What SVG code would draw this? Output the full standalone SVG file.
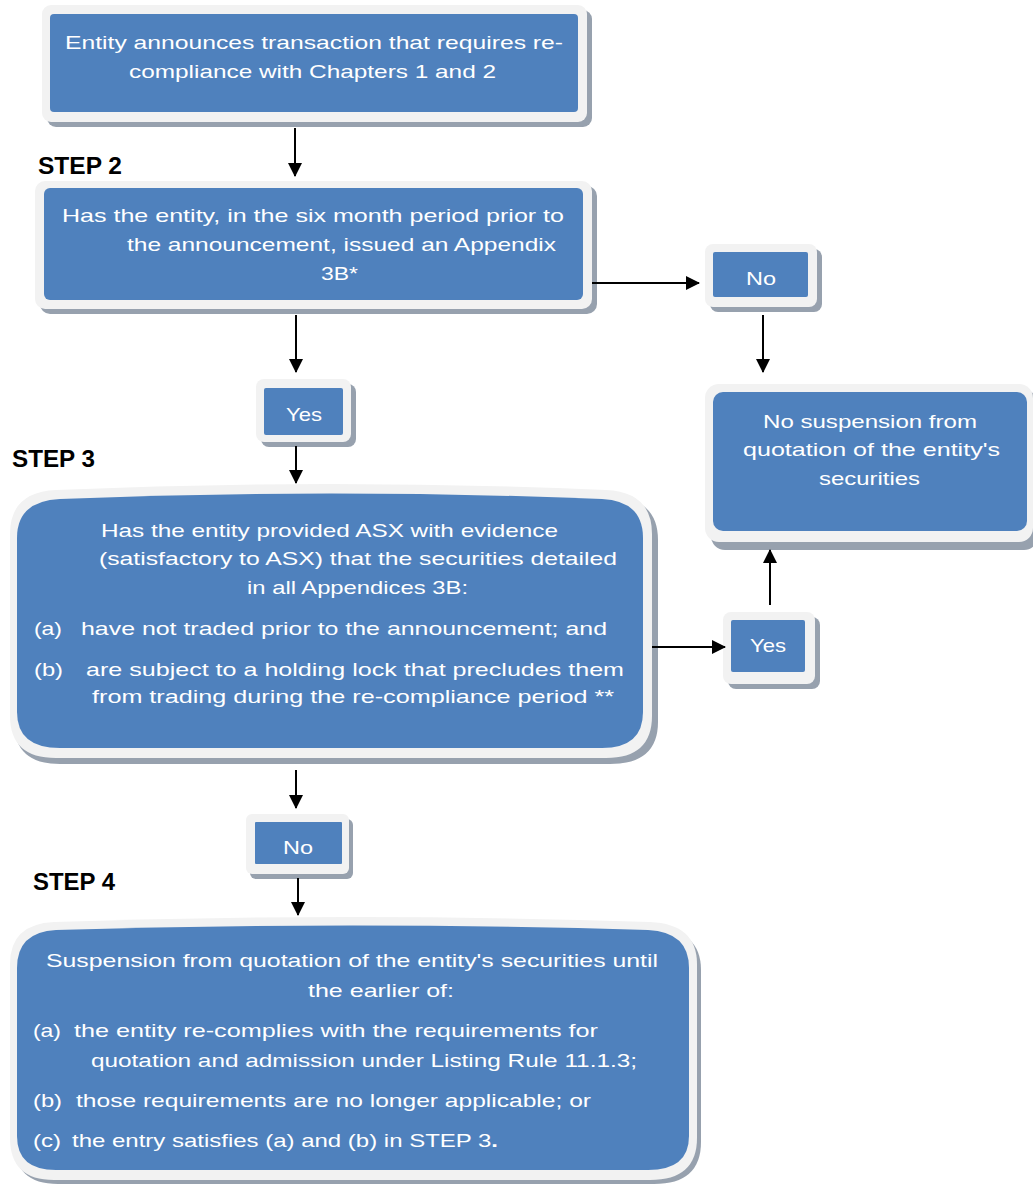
<svg xmlns="http://www.w3.org/2000/svg" width="1033" height="1184" viewBox="0 0 1033 1184">
<defs>
<marker id="ah" markerWidth="14" markerHeight="14" refX="13" refY="7" orient="auto" markerUnits="userSpaceOnUse">
<path d="M0,0 L14,7 L0,14 Z" fill="#000"/>
</marker>
</defs>
<style>
.sh{fill:#97A1AE}
.fr{fill:#F2F2F2}
.bl{fill:#4F81BD}
.t{font-family:"Liberation Sans",Arial,sans-serif;font-size:18.5px;fill:#fff}
.st{font-family:"Liberation Sans",Arial,sans-serif;font-size:23px;font-weight:bold;fill:#000}
.ln{stroke:#000;stroke-width:2;fill:none}
</style>
<rect width="1033" height="1184" fill="#fff"/>
<g id="labels">
<text class="st" x="38" y="174" textLength="84" lengthAdjust="spacingAndGlyphs">STEP 2</text>
<text class="st" x="12" y="467" textLength="83" lengthAdjust="spacingAndGlyphs">STEP 3</text>
<text class="st" x="33" y="890" textLength="82" lengthAdjust="spacingAndGlyphs">STEP 4</text>
</g>
<g id="n1">
<rect class="sh" x="47" y="10" width="545" height="117" rx="9"/>
<rect class="fr" x="42" y="5" width="545" height="117" rx="9"/>
<rect class="bl" x="50" y="14" width="528" height="98" rx="4"/>
<text class="t" x="65" y="49" textLength="498" lengthAdjust="spacingAndGlyphs">Entity announces transaction that requires re-</text>
<text class="t" x="129" y="78" textLength="367" lengthAdjust="spacingAndGlyphs">compliance with Chapters 1 and 2</text>
</g>
<g id="n2">
<rect class="sh" x="40" y="186" width="557" height="128" rx="10"/>
<rect class="fr" x="35" y="181" width="557" height="128" rx="10"/>
<rect class="bl" x="44" y="188" width="539" height="112" rx="6"/>
<text class="t" x="62" y="222" textLength="502" lengthAdjust="spacingAndGlyphs">Has the entity, in the six month period prior to</text>
<text class="t" x="127" y="251" textLength="429" lengthAdjust="spacingAndGlyphs">the announcement, issued an Appendix</text>
<text class="t" x="321" y="280" textLength="37" lengthAdjust="spacingAndGlyphs">3B*</text>
</g>
<g id="n3">
<rect class="sh" x="710" y="249" width="112" height="63" rx="8"/>
<rect class="fr" x="705" y="244" width="112" height="63" rx="8"/>
<rect class="bl" x="713" y="252" width="95" height="45" rx="2"/>
<text class="t" x="746" y="285" textLength="30" lengthAdjust="spacingAndGlyphs">No</text>
</g>
<g id="n4">
<rect class="sh" x="711" y="390" width="327" height="160" rx="14"/>
<rect class="fr" x="705" y="384" width="328" height="158" rx="14"/>
<rect class="bl" x="713" y="392" width="314" height="139" rx="10"/>
<text class="t" x="763" y="428" textLength="214" lengthAdjust="spacingAndGlyphs">No suspension from</text>
<text class="t" x="743" y="456" textLength="257" lengthAdjust="spacingAndGlyphs">quotation of the entity's</text>
<text class="t" x="819" y="485" textLength="101" lengthAdjust="spacingAndGlyphs">securities</text>
</g>
<g id="n5">
<rect class="sh" x="261" y="384" width="95" height="63" rx="8"/>
<rect class="fr" x="256" y="379" width="95" height="63" rx="8"/>
<rect class="bl" x="264" y="388" width="79" height="47" rx="2"/>
<text class="t" x="286" y="421" textLength="36" lengthAdjust="spacingAndGlyphs">Yes</text>
</g>
<g id="n6">
<path class="sh" d="M60,496 Q330,484 610,496 Q658,498 658,540 L658,722 Q658,764 610,764 L60,764 Q14,764 14,722 L14,540 Q14,498 60,496 Z"/>
<path class="fr" d="M56,490 Q330,478 606,490 Q652,492 652,534 L652,716 Q652,758 606,758 L56,758 Q10,758 10,716 L10,534 Q10,492 56,490 Z"/>
<path class="bl" d="M60,499 Q330,488 602,499 Q643,501 643,538 L643,712 Q643,748 602,748 L60,748 Q17,748 17,712 L17,538 Q17,501 60,499 Z"/>
<text class="t" x="101" y="537" textLength="457" lengthAdjust="spacingAndGlyphs">Has the entity provided ASX with evidence</text>
<text class="t" x="99" y="565" textLength="518" lengthAdjust="spacingAndGlyphs">(satisfactory to ASX) that the  securities detailed</text>
<text class="t" x="247" y="594" textLength="221" lengthAdjust="spacingAndGlyphs">in all Appendices 3B:</text>
<text class="t" x="34" y="635" textLength="28" lengthAdjust="spacingAndGlyphs">(a)</text>
<text class="t" x="81" y="635" textLength="526" lengthAdjust="spacingAndGlyphs">have not traded prior to the announcement; and</text>
<text class="t" x="34" y="676" textLength="29" lengthAdjust="spacingAndGlyphs">(b)</text>
<text class="t" x="86" y="676" textLength="538" lengthAdjust="spacingAndGlyphs">are subject to a holding lock that precludes them</text>
<text class="t" x="92" y="703" textLength="522" lengthAdjust="spacingAndGlyphs">from trading during the re-compliance period **</text>
</g>
<g id="n7">
<rect class="sh" x="728" y="617" width="92" height="72" rx="8"/>
<rect class="fr" x="723" y="612" width="92" height="72" rx="8"/>
<rect class="bl" x="731" y="620" width="74" height="52" rx="2"/>
<text class="t" x="750" y="652" textLength="36" lengthAdjust="spacingAndGlyphs">Yes</text>
</g>
<g id="n8">
<rect class="sh" x="250" y="819" width="103" height="60" rx="6"/>
<rect class="fr" x="246" y="814" width="103" height="60" rx="6"/>
<rect class="bl" x="255" y="822" width="87" height="42" rx="1"/>
<text class="t" x="283" y="854" textLength="30" lengthAdjust="spacingAndGlyphs">No</text>
</g>
<g id="n9">
<path class="sh" d="M58,928 Q350,918 654,928 Q701,930 701,970 L701,1142 Q701,1184 654,1184 L58,1184 Q14,1184 14,1142 L14,970 Q14,930 58,928 Z"/>
<path class="fr" d="M54,922 Q350,912 650,922 Q697,924 697,964 L697,1138 Q697,1180 650,1180 L54,1180 Q10,1180 10,1138 L10,964 Q10,924 54,922 Z"/>
<path class="bl" d="M56,930 Q350,921 648,930 Q689,932 689,968 L689,1136 Q689,1170 648,1170 L56,1170 Q17,1170 17,1136 L17,968 Q17,932 56,930 Z"/>
<text class="t" x="46" y="967" textLength="612" lengthAdjust="spacingAndGlyphs">Suspension from quotation of the entity's securities until</text>
<text class="t" x="308" y="997" textLength="146" lengthAdjust="spacingAndGlyphs">the earlier of:</text>
<text class="t" x="33" y="1037" textLength="28" lengthAdjust="spacingAndGlyphs">(a)</text>
<text class="t" x="74" y="1037" textLength="524" lengthAdjust="spacingAndGlyphs">the entity re-complies with the requirements for</text>
<text class="t" x="91" y="1067" textLength="546" lengthAdjust="spacingAndGlyphs">quotation and admission under Listing Rule 11.1.3;</text>
<text class="t" x="33" y="1107" textLength="29" lengthAdjust="spacingAndGlyphs">(b)</text>
<text class="t" x="76" y="1107" textLength="515" lengthAdjust="spacingAndGlyphs">those requirements are no longer applicable; or</text>
<text class="t" x="33" y="1147" textLength="28" lengthAdjust="spacingAndGlyphs">(c)</text>
<text class="t" x="72" y="1147" textLength="426" lengthAdjust="spacingAndGlyphs">the entry satisfies  (a) and (b) in STEP 3<tspan font-weight="bold">.</tspan></text>
</g>
<g id="connectors">
<line class="ln" x1="295" y1="128" x2="295" y2="176" marker-end="url(#ah)"/>
<line class="ln" x1="592" y1="283" x2="699" y2="283" marker-end="url(#ah)"/>
<line class="ln" x1="763" y1="315" x2="763" y2="372" marker-end="url(#ah)"/>
<line class="ln" x1="296" y1="315" x2="296" y2="372" marker-end="url(#ah)"/>
<line class="ln" x1="296" y1="446" x2="296" y2="483" marker-end="url(#ah)"/>
<line class="ln" x1="652" y1="647" x2="725" y2="647" marker-end="url(#ah)"/>
<line class="ln" x1="770" y1="605" x2="770" y2="550" marker-end="url(#ah)"/>
<line class="ln" x1="296" y1="770" x2="296" y2="808" marker-end="url(#ah)"/>
<line class="ln" x1="298" y1="878" x2="298" y2="915" marker-end="url(#ah)"/>
</g>
</svg>
